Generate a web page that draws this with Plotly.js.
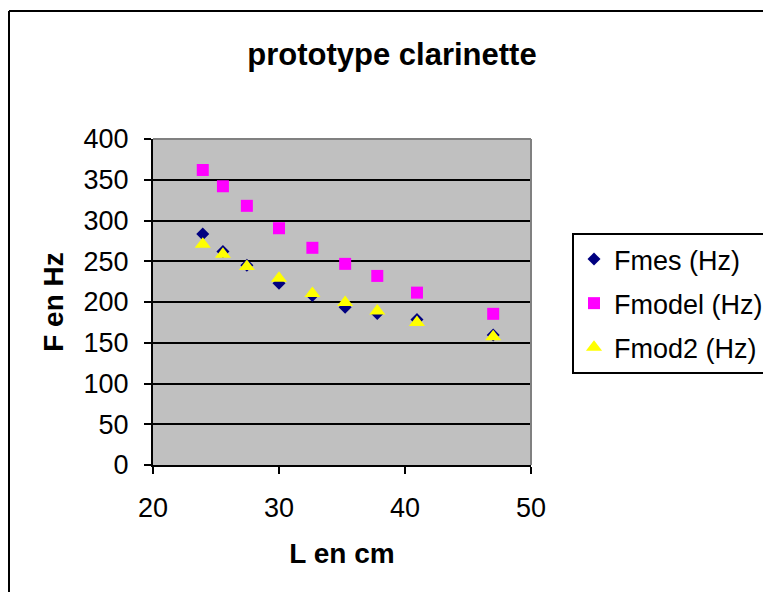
<!DOCTYPE html>
<html>
<head>
<meta charset="utf-8">
<script src="https://cdn.plot.ly/plotly-3.0.1.min.js"></script>
<style>
html, body { margin: 0; padding: 0; background: #fff; overflow: hidden; }
#chart { width: 763px; height: 592px; }
</style>
</head>
<body>
<div id="chart"></div>
<script>
// Data
var lengthCm = [23.95, 25.55, 27.45, 30.0, 32.65, 35.25, 37.8, 40.95, 47.0];
var fmes     = [283.5, 262, 245, 223, 208, 193.5, 186, 178.5, 159.5];
var fmodel   = [362, 342, 318, 290.5, 266.5, 246.8, 232, 211.5, 185.5];
var fmod2    = [271, 258.5, 243.5, 229, 210.5, 199.5, 189, 175, 157.5];
var seriesNames = ['Fmes (Hz)', 'Fmodel (Hz)', 'Fmod2 (Hz)'];
var xTicks = [20, 30, 40, 50];
var yTicks = [0, 50, 100, 150, 200, 250, 300, 350, 400];

var font = 'Liberation Sans, Arial, sans-serif';

var traces = [
  { x: lengthCm, y: fmes, name: seriesNames[0], mode: 'markers', type: 'scatter', legendgroup: 'a',
    marker: { symbol: 'diamond', size: 10, color: '#000080' } },
  { x: lengthCm, y: fmodel, name: seriesNames[1], mode: 'markers', type: 'scatter', legendgroup: 'b',
    marker: { symbol: 'square', size: 12, color: '#FF00FF' } },
  { x: lengthCm, y: fmod2, name: seriesNames[2], mode: 'markers', type: 'scatter', legendgroup: 'c',
    marker: { symbol: 'triangle-up', size: 14, color: '#FFFF00' } }
];

var layout = {
  width: 763, height: 592,
  margin: { l: 153, r: 232, t: 139, b: 127, pad: 0, autoexpand: false },
  paper_bgcolor: '#ffffff',
  plot_bgcolor: '#C0C0C0',
  showlegend: true,
  title: { text: '<b>prototype clarinette</b>', font: { family: font, size: 31, color: '#000' },
           x: 392 / 763, xref: 'container', xanchor: 'center', y: 1 - 54/592, yref: 'container', yanchor: 'middle' },
  xaxis: {
    range: [20, 50], tickvals: xTicks, ticktext: xTicks.map(String),
    showgrid: false, zeroline: false,
    showline: true, linecolor: '#000', linewidth: 2,
    ticks: 'outside', ticklen: 7, tickwidth: 2, tickcolor: '#000',
    ticklabelstandoff: 11,
    tickfont: { family: font, size: 27, color: '#000' },
    title: { text: '<b>L en cm</b>', font: { family: font, size: 28, color: '#000' }, standoff: 21 }
  },
  yaxis: {
    range: [0, 400], tickvals: yTicks, ticktext: yTicks.map(String),
    showgrid: true, gridcolor: '#000', gridwidth: 2, zeroline: false,
    showline: true, linecolor: '#000', linewidth: 2,
    ticks: 'outside', ticklen: 7, tickwidth: 2, tickcolor: '#000',
    ticklabelstandoff: 10,
    tickfont: { family: font, size: 27, color: '#000' },
    title: { text: '<b>F en Hz</b>', font: { family: font, size: 28, color: '#000' }, standoff: 12 }
  },
  legend: {
    x: (572 - 153) / 378, xanchor: 'left',
    y: (465 - 233) / 326, yanchor: 'top',
    bgcolor: '#ffffff', bordercolor: '#000', borderwidth: 2,
    font: { family: font, size: 27, color: '#000' },
    traceorder: 'grouped', tracegroupgap: 6,
    itemwidth: 30
  },
  shapes: [
    { type: 'line', xref: 'paper', yref: 'paper', x0: 0, x1: 1, y0: 1, y1: 1,
      line: { color: '#808080', width: 2 }, layer: 'above' },
    { type: 'line', xref: 'paper', yref: 'paper', x0: 1, x1: 1, y0: 0, y1: 1,
      line: { color: '#808080', width: 2 }, layer: 'above' },
    { type: 'line', xref: 'paper', yref: 'paper', x0: (9 - 153) / 378, x1: 3, y0: (465 - 11) / 326, y1: (465 - 11) / 326,
      line: { color: '#000', width: 2 } },
    { type: 'line', xref: 'paper', yref: 'paper', x0: (9 - 153) / 378, x1: (9 - 153) / 378, y0: -2, y1: (465 - 11) / 326,
      line: { color: '#000', width: 2 } }
  ]
};

Plotly.newPlot('chart', traces, layout, { displayModeBar: false, staticPlot: true });
</script>
</body>
</html>
